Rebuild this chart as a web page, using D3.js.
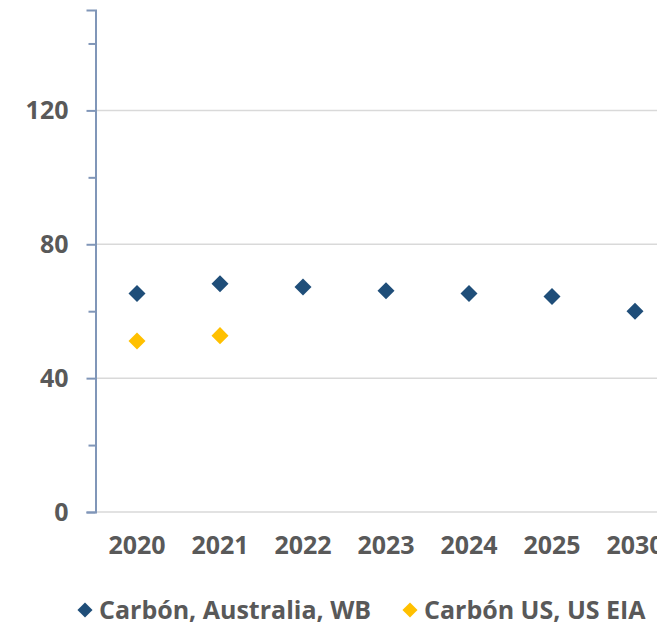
<!DOCTYPE html>
<html>
<head>
<meta charset="utf-8">
<script src="https://cdn.jsdelivr.net/npm/d3@7"></script>
<style>
  body { margin: 0; background: #fff; }
  text { font-family: "Open Sans", Lato, sans-serif; font-weight: bold; fill: #595959; }
</style>
</head>
<body>
<div id="chart"></div>
<script>
// Data
var years = ["2020", "2021", "2022", "2023", "2024", "2025", "2030"];
var australiaWB = [65.3, 68.2, 67.2, 66.1, 65.3, 64.4, 60.0];
var usEIA = [51.1, 52.7, null, null, null, null, null];
var yTicks = [0, 40, 80, 120];
var yMinorTicks = [20, 60, 100, 140];
var seriesNames = ["Carbón, Australia, WB", "Carbón US, US EIA"];
var seriesColors = ["#1f4e79", "#ffc000"];

var svgWidth = 657;
var svgHeight = 623;
var margin = { top: 10, left: 95.5, bottom: 111 };
var bandWidth = 83;
var chartHeight = svgHeight - margin.top - margin.bottom;

var svg = d3.select("#chart")
  .append("svg")
  .attr("width", svgWidth)
  .attr("height", svgHeight);

var chart = svg.append("g")
  .attr("transform", "translate(" + margin.left + "," + margin.top + ")");

var x = d3.scaleBand()
  .domain(years)
  .range([0, bandWidth * years.length]);

var y = d3.scaleLinear()
  .domain([0, 150])
  .range([chartHeight, 0]);

// Gridlines
chart.selectAll(".grid")
  .data(yTicks)
  .enter()
  .append("line")
  .attr("class", "grid")
  .attr("x1", 0)
  .attr("x2", svgWidth)
  .attr("y1", d => y(d))
  .attr("y2", d => y(d))
  .attr("stroke", "#d9d9d9")
  .attr("stroke-width", 1.5);

// Y axis (major ticks with labels)
var yAxis = chart.append("g")
  .call(d3.axisLeft(y).tickValues(yTicks).tickSize(9).tickPadding(18).tickFormat(d3.format("d")));
yAxis.select(".domain").attr("stroke", "#8096b8").attr("stroke-width", 2);
yAxis.selectAll(".tick line").attr("stroke", "#8096b8").attr("stroke-width", 2);
yAxis.selectAll(".tick text")
  .style("font-size", "25px")
  .attr("fill", "#595959");

// Minor ticks
var yMinor = chart.append("g")
  .call(d3.axisLeft(y).tickValues(yMinorTicks).tickSize(7).tickFormat(""));
yMinor.select(".domain").remove();
yMinor.selectAll(".tick line").attr("stroke", "#8096b8").attr("stroke-width", 2);

// X labels
var xAxis = chart.append("g")
  .attr("transform", "translate(0," + chartHeight + ")")
  .call(d3.axisBottom(x).tickSize(0).tickPadding(24));
xAxis.select(".domain").remove();
xAxis.selectAll(".tick text")
  .style("font-size", "25px")
  .attr("fill", "#595959");

var diamond = d3.symbol().type(d3.symbolDiamond2).size(185);

// Series markers
[australiaWB, usEIA].forEach(function(values, i) {
  var pts = years.map((yr, j) => ({ year: yr, value: values[j] })).filter(d => d.value != null);
  chart.selectAll(".s" + i)
    .data(pts)
    .enter()
    .append("path")
    .attr("class", "s" + i)
    .attr("d", diamond)
    .attr("transform", d => "translate(" + (x(d.year) + x.bandwidth() / 2) + "," + y(d.value) + ")")
    .attr("fill", seriesColors[i]);
});

// Legend
var legendX = [85, 410];
var legend = svg.selectAll(".legend")
  .data(seriesNames)
  .enter()
  .append("g")
  .attr("class", "legend")
  .attr("transform", (d, i) => "translate(" + legendX[i] + ",610)");
legend.append("path")
  .attr("d", d3.symbol().type(d3.symbolDiamond2).size(145))
  .attr("fill", (d, i) => seriesColors[i]);
legend.append("text")
  .attr("x", 14)
  .attr("dy", "0.35em")
  .style("font-size", "25px")
  .text(d => d);
</script>
</body>
</html>
